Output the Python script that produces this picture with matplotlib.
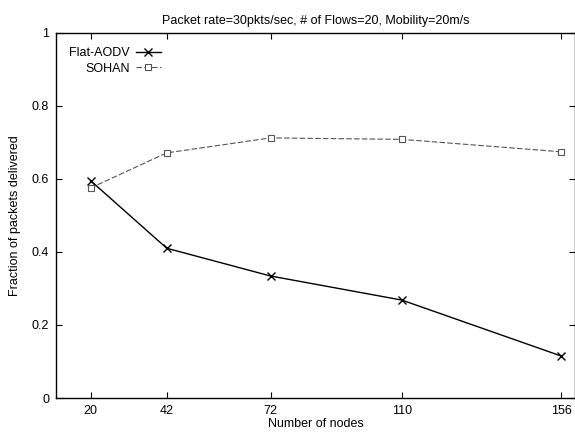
import matplotlib
matplotlib.use('Agg')
import matplotlib.pyplot as plt

plt.rcParams['font.family'] = ['Liberation Sans', 'DejaVu Sans']

nodes = [20, 42, 72, 110, 156]
flat_aodv = [0.595, 0.410, 0.334, 0.268, 0.115]
sohan = [0.575, 0.671, 0.712, 0.708, 0.674]
y_ticks = [0, 0.2, 0.4, 0.6, 0.8, 1]
y_labels = ['0', '0.2', '0.4', '0.6', '0.8', '1']

fig = plt.figure(figsize=(5.75, 4.37), dpi=100)
ax = fig.add_axes([0.0974, 0.0892, 0.9026, 0.836])

ax.plot(nodes, flat_aodv, color='black', linewidth=1.0, marker='x',
        markersize=6, markeredgewidth=1.0, label='Flat-AODV')
ax.plot(nodes, sohan, color='#555555', linewidth=0.8, linestyle=(0, (5, 2)),
        marker='s', markersize=4.5, markerfacecolor='white',
        markeredgecolor='#555555', markeredgewidth=0.8, label='SOHAN')

ax.set_xlim(10, 160)
ax.set_ylim(0, 1)
ax.set_xticks(nodes)
ax.set_xticklabels([str(n) for n in nodes])
ax.set_yticks(y_ticks)
ax.set_yticklabels(y_labels)
ax.tick_params(direction='in', top=True, right=True, length=4,
               labelsize=9, pad=5)
for side in ax.spines.values():
    side.set_linewidth(1.0)

ax.set_title('Packet rate=30pkts/sec, # of Flows=20, Mobility=20m/s',
             fontsize=9, pad=6)
ax.set_xlabel('Number of nodes', fontsize=9, labelpad=1)
ax.set_ylabel('Fraction of packets delivered', fontsize=9, labelpad=8)

ax.legend(loc='upper left', bbox_to_anchor=(0.008, 0.985), frameon=False,
          markerfirst=False, fontsize=9, handlelength=2.0, handletextpad=0.5,
          labelspacing=0.3, borderaxespad=0.3)

fig.savefig('out.png', dpi=100)
